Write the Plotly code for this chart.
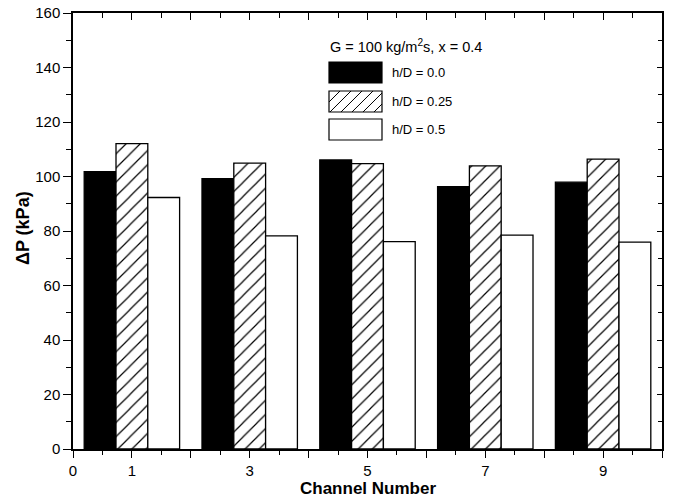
import plotly.graph_objects as go

# ---- data ----
channels = [1, 3, 5, 7, 9]
hd_00 = [101.8, 99.2, 106.1, 96.3, 97.9]
hd_025 = [112.1, 104.9, 104.7, 103.9, 106.4]
hd_05 = [92.3, 78.2, 76.1, 78.5, 75.9]
series_names = ["h/D = 0.0", "h/D = 0.25", "h/D = 0.5"]
x_label_ticks = [0, 1, 3, 5, 7, 9]
x_unlabeled_ticks = [2, 4, 6, 8, 10]
legend_title = "G = 100 kg/m<sup>2</sup>s, x = 0.4"

FONT = "Liberation Sans, Arial, sans-serif"
W, H = 675, 499
L, R, T, B = 73, 13, 13, 50
PW, PH = W - L - R, H - T - B


def P(xp, yp):
    return (xp - L) / PW, 1 - (yp - T) / PH


fig = go.Figure()
line = dict(color="black", width=1.3)
fig.add_trace(go.Bar(x=channels, y=hd_00, name=series_names[0],
                     marker=dict(color="black", line=line)))
fig.add_trace(go.Bar(x=channels, y=hd_025, name=series_names[1],
                     marker=dict(color="white", line=line,
                                 pattern=dict(shape="/", fgcolor="black", bgcolor="white",
                                              fgopacity=1, size=10, solidity=0.12,
                                              fillmode="overlay"))))
fig.add_trace(go.Bar(x=channels, y=hd_05, name=series_names[2],
                     marker=dict(color="white", line=line)))

# empty traces to activate the mirror / extra tick axes
fig.add_trace(go.Scatter(x=[None], y=[None], xaxis="x2", yaxis="y2", showlegend=False,
                         hoverinfo="skip"))
fig.add_trace(go.Scatter(x=[None], y=[None], xaxis="x3", yaxis="y", showlegend=False,
                         hoverinfo="skip"))

shapes = []
annotations = []
# custom legend
box_x0, box_x1 = 329, 382
boxes = [(62, 83, "black"), (91, 112, "hatch"), (119, 140, "white")]
for (y0, y1, kind), name in zip(boxes, series_names):
    a = P(box_x0, y1)
    b = P(box_x1, y0)
    shapes.append(dict(type="rect", xref="paper", yref="paper", x0=a[0], y0=a[1], x1=b[0], y1=b[1],
                       fillcolor="black" if kind == "black" else "white",
                       line=dict(color="black", width=1.2), layer="above"))
    if kind == "hatch":
        segs = []
        c = box_x0 + y0
        while c < box_x1 + y1:
            xs = max(box_x0, c - y1)
            xe = min(box_x1, c - y0)
            if xs < xe:
                p1 = P(xs, c - xs)
                p2 = P(xe, c - xe)
                segs.append(f"M{p1[0]:.5f},{p1[1]:.5f} L{p2[0]:.5f},{p2[1]:.5f}")
            c += 11
        shapes.append(dict(type="path", xref="paper", yref="paper", path=" ".join(segs),
                           line=dict(color="black", width=1.0), layer="above"))
    tx, ty = P(390, (y0 + y1) / 2)
    annotations.append(dict(text=name, x=tx, y=ty, xref="paper", yref="paper",
                            xanchor="left", yanchor="middle", showarrow=False,
                            font=dict(family=FONT, size=13, color="black")))

tx, ty = P(328, 46)
annotations.append(dict(text=legend_title, x=tx, y=ty, xref="paper", yref="paper",
                        xanchor="left", yanchor="middle", showarrow=False,
                        font=dict(family=FONT, size=14.5, color="black")))
# axis titles
annotations.append(dict(text="<b>Channel Number</b>", x=0.5, y=P(0, 488)[1], xref="paper", yref="paper",
                        xanchor="center", yanchor="middle", showarrow=False,
                        font=dict(family=FONT, size=17, color="black")))
annotations.append(dict(text="<b>ΔP (kPa)</b>", x=P(23, 0)[0], y=P(0, 228)[1], xref="paper", yref="paper",
                        xanchor="center", yanchor="middle", showarrow=False, textangle=-90,
                        font=dict(family=FONT, size=18, color="black")))

axis_common = dict(showgrid=False, zeroline=False, showline=True, linecolor="black",
                   linewidth=1.5, tickcolor="black", tickwidth=1.3, automargin=False)

fig.update_layout(
    width=W, height=H, margin=dict(l=L, r=R, t=T, b=B, autoexpand=False),
    paper_bgcolor="white", plot_bgcolor="white",
    barmode="group", bargap=0.19, bargroupgap=0,
    showlegend=False,
    font=dict(family=FONT, size=15, color="black"),
    shapes=shapes, annotations=annotations,
    xaxis=dict(range=[0, 10], tickmode="array", tickvals=x_label_ticks,
               ticks="outside", ticklen=7,
               minor=dict(tickmode="linear", tick0=0.5, dtick=1, ticks="outside", ticklen=4,
                          tickcolor="black", tickwidth=1.3),
               tickfont=dict(family=FONT, size=15), **axis_common),
    xaxis3=dict(range=[0, 10], overlaying="x", side="bottom", tickmode="array",
                tickvals=x_unlabeled_ticks, ticks="outside", ticklen=7, showticklabels=False,
                **axis_common),
    xaxis2=dict(range=[0, 10], overlaying="x", side="top", tickmode="linear", tick0=0, dtick=1,
                ticks="inside", ticklen=7, showticklabels=False,
                minor=dict(tickmode="linear", tick0=0.5, dtick=1, ticks="inside", ticklen=5,
                           tickcolor="black", tickwidth=1.3),
                **axis_common),
    yaxis=dict(range=[0, 160], tickmode="linear", tick0=0, dtick=20, ticks="outside", ticklen=8,
               minor=dict(tickmode="linear", tick0=10, dtick=20, ticks="outside", ticklen=5,
                          tickcolor="black", tickwidth=1.3),
               tickfont=dict(family=FONT, size=15), **axis_common),
    yaxis2=dict(range=[0, 160], overlaying="y", side="right", tickmode="linear", tick0=0, dtick=20,
                ticks="inside", ticklen=5, showticklabels=False,
                minor=dict(tickmode="linear", tick0=10, dtick=20, ticks="inside", ticklen=4,
                           tickcolor="black", tickwidth=1.3),
                **axis_common),
)

fig.write_html("out.html")
